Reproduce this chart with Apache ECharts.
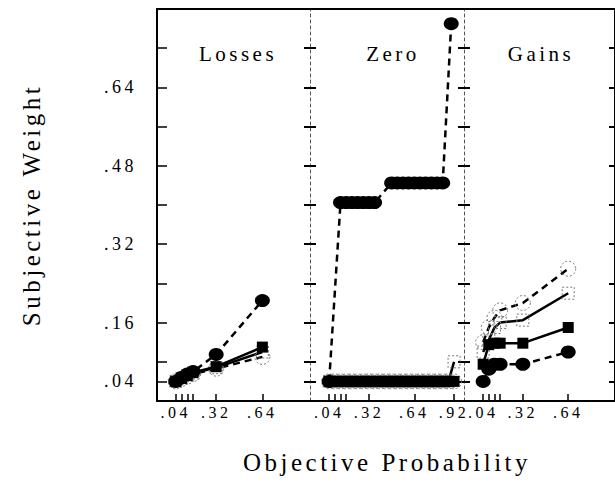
<!DOCTYPE html>
<html>
<head>
<meta charset="utf-8">
<script src="https://cdn.jsdelivr.net/npm/echarts@6/dist/echarts.min.js"></script>
<style>
html,body{margin:0;padding:0;background:#fff;}
#chart{width:615px;height:491px;}
#chart text{letter-spacing:3.5px;}
</style>
</head>
<body>
<div id="chart"></div>
<script>
// ---- tick / label values ----
const yTicks = [0.04, 0.08, 0.16, 0.24, 0.32, 0.40, 0.48, 0.56, 0.64, 0.72];
const yLabels = [0.04, 0.16, 0.32, 0.48, 0.64];
const lossTicks = [0.04, 0.08, 0.12, 0.16, 0.32, 0.64];
const lossLabels = [0.04, 0.32, 0.64];
const zeroTicks = [0.04, 0.08, 0.12, 0.16, 0.32, 0.64, 0.92];
const zeroLabels = [0.04, 0.32, 0.64, 0.92];
const gainTicks = [0.04, 0.08, 0.12, 0.16, 0.32, 0.64];
const gainLabels = [0.04, 0.32, 0.64];
const panelTitles = ['Losses', 'Zero', 'Gains'];

// ---- Losses panel ----
const lossX = [0.04, 0.08, 0.12, 0.16, 0.32, 0.64];
const lossFilledCircle = [0.040, 0.048, 0.055, 0.060, 0.095, 0.205];
const lossFilledSquare = [0.040, 0.046, 0.052, 0.058, 0.070, 0.110];
const lossOpenSquare   = [0.040, 0.046, 0.052, 0.057, 0.068, 0.100];
const lossOpenCircle   = [0.040, 0.045, 0.050, 0.055, 0.066, 0.090];

// ---- Zero panel ----
const zeroX = [0.04, 0.08, 0.12, 0.16, 0.20, 0.24, 0.28, 0.32, 0.36, 0.40, 0.44, 0.48,
               0.52, 0.56, 0.60, 0.64, 0.68, 0.72, 0.76, 0.80, 0.84, 0.88, 0.92];
const zeroFilledSquare = [0.04, 0.04, 0.04, 0.04, 0.04, 0.04, 0.04, 0.04, 0.04, 0.04, 0.04, 0.04,
                          0.04, 0.04, 0.04, 0.04, 0.04, 0.04, 0.04, 0.04, 0.04, 0.04, 0.04];
const zeroOpenCircle   = [0.04, 0.04, 0.04, 0.04, 0.04, 0.04, 0.04, 0.04, 0.04, 0.04, 0.04, 0.04,
                          0.04, 0.04, 0.04, 0.04, 0.04, 0.04, 0.04, 0.04, 0.04, 0.04, 0.04];
const zeroOpenSquare   = [0.04, 0.04, 0.04, 0.04, 0.04, 0.04, 0.04, 0.04, 0.04, 0.04, 0.04, 0.04,
                          0.04, 0.04, 0.04, 0.04, 0.04, 0.04, 0.04, 0.04, 0.04, 0.04, 0.08];
const zeroStepX = [0.04, 0.12, 0.16, 0.20, 0.24, 0.28, 0.32, 0.36,
                   0.48, 0.52, 0.56, 0.60, 0.64, 0.68, 0.72, 0.76, 0.80, 0.84, 0.90];
const zeroStepY = [0.04, 0.405, 0.405, 0.405, 0.405, 0.405, 0.405, 0.405,
                   0.445, 0.445, 0.445, 0.445, 0.445, 0.445, 0.445, 0.445, 0.445, 0.445, 0.77];

// ---- Gains panel ----
const gainX = [0.04, 0.08, 0.12, 0.16, 0.32, 0.64];
const gainFilledCircle = [0.040, 0.065, 0.075, 0.075, 0.075, 0.100];
const gainFilledSquare = [0.075, 0.115, 0.118, 0.118, 0.118, 0.150];
const gainOpenSquare   = [0.100, 0.125, 0.150, 0.160, 0.165, 0.220];
const gainOpenCircle   = [0.120, 0.150, 0.170, 0.185, 0.200, 0.270];

// ---- build chart ----
const FONT = 'Liberation Serif';
const fmt = v => Number(v).toFixed(2).replace(/^0/, '');
const grids = [
  {left: 157, top: 9, width: 153, height: 392},
  {left: 310, top: 9, width: 154, height: 392},
  {left: 464, top: 9, width: 154, height: 392}
];
const xRanges = [[-0.09, 0.97], [-0.095, 0.99], [-0.095, 0.97]];
const xTickSets = [lossTicks, zeroTicks, gainTicks];
const xLabelSets = [lossLabels, zeroLabels, gainLabels];

const xAxes = [];
for (let i = 0; i < 3; i++) {
  xAxes.push({
    type: 'value', gridIndex: i, position: 'bottom',
    min: xRanges[i][0], max: xRanges[i][1],
    axisLine: {show: true, onZero: false, lineStyle: {color: '#000', width: 2}},
    axisTick: {show: true, inside: true, length: 7, customValues: xTickSets[i], lineStyle: {color: '#000', width: 1.5}},
    axisLabel: {show: true, customValues: xLabelSets[i], formatter: fmt, margin: 3,
                fontFamily: FONT, fontSize: 16, color: '#000'},
    splitLine: {show: false},
    name: i === 1 ? 'Objective Probability' : '',
    nameLocation: 'middle', nameGap: 49,
    nameTextStyle: {fontFamily: FONT, fontSize: 25, color: '#000'}
  });
}
for (let i = 0; i < 3; i++) {
  xAxes.push({
    type: 'value', gridIndex: i, position: 'top',
    min: xRanges[i][0], max: xRanges[i][1],
    axisLine: {show: true, onZero: false, lineStyle: {color: '#000', width: 2}},
    axisTick: {show: false}, axisLabel: {show: false}, splitLine: {show: false}
  });
}
const yAxes = [];
for (let i = 0; i < 3; i++) {
  yAxes.push({
    type: 'value', gridIndex: i, position: 'left',
    min: 0, max: 0.8,
    axisLine: {show: true, onZero: false,
               lineStyle: i === 0 ? {color: '#000', width: 2} : {color: '#555', width: 1, type: [3, 3]}},
    axisTick: {show: true, inside: true, length: i === 0 ? 10 : 6, customValues: yTicks,
               lineStyle: {color: '#000', width: i === 0 ? 1.5 : 2}},
    axisLabel: {show: i === 0, customValues: yLabels, formatter: fmt, margin: 20,
                fontFamily: FONT, fontSize: 18, color: '#000'},
    splitLine: {show: false},
    name: i === 0 ? 'Subjective Weight' : '',
    nameLocation: 'middle', nameGap: 113, nameRotate: 90,
    nameTextStyle: {fontFamily: FONT, fontSize: 25, color: '#000'}
  });
}
for (let i = 0; i < 3; i++) {
  yAxes.push({
    type: 'value', gridIndex: i, position: 'right',
    min: 0, max: 0.8,
    axisLine: {show: i === 2, onZero: false, lineStyle: {color: '#000', width: 2}},
    axisTick: {show: true, inside: true, length: 6, customValues: yTicks,
               lineStyle: {color: '#000', width: 2}},
    axisLabel: {show: false}, splitLine: {show: false}
  });
}

const styles = {
  fc: {symbol: 'circle', symbolSize: [15, 13], itemStyle: {color: '#000'},
       lineStyle: {color: '#000', width: 2.5, type: [7, 5]}, z: 4},
  fs: {symbol: 'rect', symbolSize: 11, itemStyle: {color: '#000'},
       lineStyle: {color: '#000', width: 2.5, type: 'solid'}, z: 3},
  os: {symbol: 'rect', symbolSize: 12,
       itemStyle: {color: 'rgba(255,255,255,0)', borderColor: '#777', borderWidth: 1, borderType: [2, 2]},
       lineStyle: {color: '#000', width: 2.5, type: 'solid'}, z: 2},
  oc: {symbol: 'circle', symbolSize: 15,
       itemStyle: {color: 'rgba(255,255,255,0)', borderColor: '#777', borderWidth: 1, borderType: [2, 2]},
       lineStyle: {color: '#000', width: 2.5, type: [7, 5]}, z: 2}
};
function mk(name, xs, ys, idx, kind) {
  const s = styles[kind];
  return {
    type: 'line', name: name, xAxisIndex: idx, yAxisIndex: idx,
    data: xs.map((x, k) => [x, ys[k]]),
    symbol: s.symbol, symbolSize: s.symbolSize, showAllSymbol: true,
    itemStyle: s.itemStyle, lineStyle: s.lineStyle, z: s.z,
    silent: true, animation: false, emphasis: {disabled: true}
  };
}
const series = [
  mk('Losses open circle', lossX, lossOpenCircle, 0, 'oc'),
  mk('Losses open square', lossX, lossOpenSquare, 0, 'os'),
  mk('Losses filled square', lossX, lossFilledSquare, 0, 'fs'),
  mk('Losses filled circle', lossX, lossFilledCircle, 0, 'fc'),
  mk('Zero open circle', zeroX, zeroOpenCircle, 1, 'oc'),
  mk('Zero open square', zeroX, zeroOpenSquare, 1, 'os'),
  mk('Zero filled square', zeroX, zeroFilledSquare, 1, 'fs'),
  mk('Zero filled circle', zeroStepX, zeroStepY, 1, 'fc'),
  mk('Gains open circle', gainX, gainOpenCircle, 2, 'oc'),
  mk('Gains open square', gainX, gainOpenSquare, 2, 'os'),
  mk('Gains filled square', gainX, gainFilledSquare, 2, 'fs'),
  mk('Gains filled circle', gainX, gainFilledCircle, 2, 'fc')
];

const titleCenters = [233, 388, 536];
const option = {
  animation: false,
  backgroundColor: '#fff',
  title: panelTitles.map((t, i) => ({
    text: t, left: titleCenters[i], top: 38, textAlign: 'center',
    textStyle: {fontFamily: FONT, fontSize: 21, fontWeight: 'normal', color: '#000'}
  })),
  grid: grids,
  xAxis: xAxes,
  yAxis: yAxes,
  series: series
};
const chart = echarts.init(document.getElementById('chart'), null, {renderer: 'svg'});
chart.setOption(option);
</script>
</body>
</html>
